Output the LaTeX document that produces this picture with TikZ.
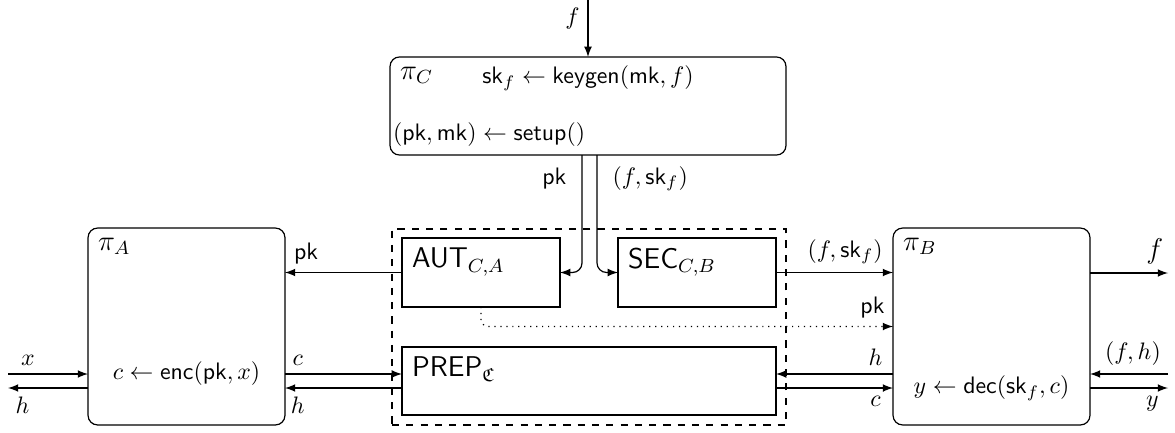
\documentclass[tikz,border=0pt]{standalone}
\usepackage{amssymb}

\begin{document}
\begin{tikzpicture}[x=0.42pt, y=-0.42pt, >=latex, line width=0.5pt,
  party/.style={draw, rounded corners=4pt, inner sep=0pt, outer sep=0pt},
  func/.style={draw, inner sep=0pt, outer sep=0pt, minimum height=29pt},
  title/.style={anchor=north west, inner sep=4pt, font=\large}]
  \useasboundingbox (0,0) rectangle (1175,432);

  % parties
  \node[party, minimum width=166.3pt, minimum height=41.2pt] (pic) at (588,106) {};
  \node[party, minimum width=82.7pt, minimum height=82.7pt] (pia) at (186.5,326.5) {};
  \node[party, minimum width=82.7pt, minimum height=82.7pt] (pib) at (991.5,326.5) {};

  % functionalities
  \node[draw, dashed, inner sep=0pt, minimum width=165.5pt, minimum height=82.3pt] (ideal) at (589,327) {};
  \node[func, minimum width=66.4pt] (aut) at (481,272.5) {};
  \node[func, minimum width=66.4pt] (sec) at (697,272.5) {};
  \node[func, minimum width=157.1pt, minimum height=28.6pt] (prep) at (589,381) {};

  % titles
  \node[title] (pictitle) at (pic.north west) {$\pi_C$};
  \node[title] (piatitle) at (pia.north west) {$\pi_A$};
  \node[title] (pibtitle) at (pib.north west) {$\pi_B$};
  \node[title] (auttitle) at (aut.north west) {\textsf{AUT}$_{C,A}$};
  \node[title] (sectitle) at (sec.north west) {\textsf{SEC}$_{C,B}$};
  \node[title] (preptitle) at (prep.north west) {\textsf{PREP}$_{\mathfrak{C}}$};

  % free ends
  \coordinate (ftop) at (588,0);
  \coordinate (xin) at (8,374);
  \coordinate (hout) at (8,388);
  \coordinate (fout) at (1168,273);
  \coordinate (fhin) at (1168,374);
  \coordinate (yout) at (1168,388);

  % algorithms
  \node (kg) at ([shift={(0,-28)}]pic.center) {$\mathsf{sk}_f \leftarrow \mathsf{keygen}(\mathsf{mk}, f)$};
  \node[anchor=west, inner sep=1pt] (setup) at ([shift={(0,29)}]pic.west) {$(\mathsf{pk}, \mathsf{mk}) \leftarrow \mathsf{setup}()$};
  \node (enc) at (pia |- xin) {$c \leftarrow \mathsf{enc}(\mathsf{pk}, x)$};
  \node (dec) at (pib |- hout) {$y \leftarrow \mathsf{dec}(\mathsf{sk}_f, c)$};

  % messages
  \draw[->] (ftop) -- (pic) node[pos=0.33, left] {$f$};
  \draw[->, rounded corners=4pt] ([shift={(-6,0)}]pic.south) |- (aut.east)
    node[pos=0.1, left=3pt] {$\mathsf{pk}$};
  \draw[->, rounded corners=4pt] ([shift={(9,0)}]pic.south) |- (sec.west)
    node[pos=0.1, right=3pt] {$(f, \mathsf{sk}_f)$};
  \draw[->] (aut.west) -- (aut.west -| pia.east) node[pos=0.82, above] {$\mathsf{pk}$};
  \draw[->] (sec.east) -- (sec.east -| pib.west) node[pos=0.59, above] {$(f, \mathsf{sk}_f)$};
  \draw[->, dotted, rounded corners=3pt] (aut.south) |- (pib.west)
    node[pos=0.975, above] {$\mathsf{pk}$};

  \draw[->] (xin) -- (xin -| pia.west) node[pos=0.25, above] {$x$};
  \draw[->] (hout -| pia.west) -- (hout) node[pos=0.82, below] {$h$};
  \draw[->] (xin -| pia.east) -- (xin -| prep.west) node[pos=0.11, above] {$c$};
  \draw[->] (hout -| prep.west) -- (hout -| pia.east) node[pos=0.89, below] {$h$};
  \draw[->] (xin -| pib.west) -- (xin -| prep.east) node[pos=0.15, above] {$h$};
  \draw[->] (hout -| prep.east) -- (hout -| pib.west) node[pos=0.85, below] {$c$};

  \draw[->] (pib.east |- fout) -- (fout) node[pos=0.83, above] {\large$f$};
  \draw[->] (fhin) -- (fhin -| pib.east) node[pos=0.45, above] {$(f, h)$};
  \draw[->] (yout -| pib.east) -- (yout) node[pos=0.8, below] {$y$};
\end{tikzpicture}
\end{document}
